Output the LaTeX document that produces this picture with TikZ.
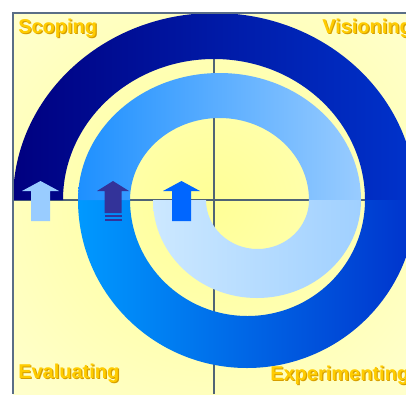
\documentclass[tikz,border=0pt]{standalone}
\usepackage{fontspec}
\setmainfont{Liberation Sans}
\usepackage{tikz}
\usepackage{xcolor}
\usetikzlibrary{calc}
\definecolor{FrameSlate}{RGB}{90,110,134}
\definecolor{AxisSlate}{RGB}{80,100,117}
\definecolor{CoreYellow}{RGB}{255,255,150}
\definecolor{MidYellow}{RGB}{255,255,200}
\definecolor{EdgeCream}{RGB}{255,255,242}
\definecolor{DeepNavy}{RGB}{0,0,128}
\definecolor{RoyalBlue}{RGB}{0,51,204}
\definecolor{SkyBlue}{RGB}{0,153,255}
\definecolor{DodgerBlue}{RGB}{30,144,255}
\definecolor{PaleBlue}{RGB}{153,204,255}
\definecolor{MistBlue}{RGB}{160,208,255}
\definecolor{IceBlue}{RGB}{204,232,255}
\definecolor{ArrowLight}{RGB}{153,204,255}
\definecolor{ArrowIndigo}{RGB}{51,51,153}
\definecolor{ArrowBlue}{RGB}{0,102,255}
\definecolor{LabelGold}{RGB}{255,204,0}
\definecolor{LabelShadow}{RGB}{214,158,0}
\pgfdeclareradialshading{paper}{\pgfpoint{0bp}{0bp}}{%
  color(0bp)=(CoreYellow); color(32bp)=(MidYellow); color(70bp)=(EdgeCream)}
\newcommand{\glowlabel}[1]{\rlap{\hspace{0.9pt}\raisebox{-0.9pt}{\color{LabelShadow}#1}}#1}

\begin{document}
\begin{tikzpicture}[x=0.75pt, y=0.75pt,
    phase/.style={font=\bfseries\fontsize{15}{18}\selectfont, text=LabelGold,
                  anchor=base west, inner sep=0pt},
    axis/.style={draw=AxisSlate, line width=1pt},
    frame/.style={draw=FrameSlate, line width=1.5pt}]
\useasboundingbox (0,0) rectangle (406,394);
\clip (0,0) rectangle (406,394);

% paper and quadrant axes
\shade[shading=paper] (13,0) rectangle (406,381);
\draw[axis] (13,194) -- (406,194);
\draw[axis] (214,0) -- (214,381);

% spiral, outside in
\shade[left color=DeepNavy, right color=RoyalBlue]
  (13,194) arc[start angle=180, end angle=0, x radius=201.5, y radius=187]
  -- (365,194) arc[start angle=0, end angle=180, x radius=151, y radius=141] -- cycle;
\shade[left color=SkyBlue, right color=RoyalBlue]
  (78,194) arc[start angle=180, end angle=360, x radius=169, y radius=168]
  -- (365,194) arc[start angle=360, end angle=180, x radius=117.5, y radius=116] -- cycle;
\shade[left color=DodgerBlue, right color=PaleBlue]
  (78,194) arc[start angle=180, end angle=0, x radius=141.5, y radius=127]
  -- (309,194) arc[start angle=0, end angle=180, x radius=89.5, y radius=82] -- cycle;
\shade[left color=IceBlue, right color=MistBlue]
  (153,194) arc[start angle=180, end angle=360, x radius=104, y radius=98]
  -- (309,194) arc[start angle=360, end angle=180, x radius=51.5, y radius=49] -- cycle;

% up arrows
\foreach \ax/\acol in {40.5/ArrowLight, 181.5/ArrowBlue}{
  \fill[\acol] (\ax-9.5,173) -- (\ax+9.5,173) -- (\ax+9.5,203) -- (\ax+18.5,203)
    -- (\ax,213) -- (\ax-18.5,203) -- (\ax-9.5,203) -- cycle;
}
\fill[ArrowIndigo] (104.5,181) -- (121.5,181) -- (121.5,203) -- (129,203)
  -- (113,213) -- (97,203) -- (104.5,203) -- cycle;
\fill[ArrowIndigo] (104.5,177) rectangle (121.5,179);
\fill[ArrowIndigo] (104.5,173) rectangle (121.5,175);

\draw[frame] (13,0) -- (13,381) -- (406,381);

\node[phase] (scoping) at (18,361) {\glowlabel{Scoping}};
\node[phase] (visioning) at (322,361) {\glowlabel{Visioning}};
\node[phase] (evaluating) at (18,16) {\glowlabel{Evaluating}};
\node[phase] (experimenting) at (270,14) {\glowlabel{Experimenting}};
\end{tikzpicture}
\end{document}
